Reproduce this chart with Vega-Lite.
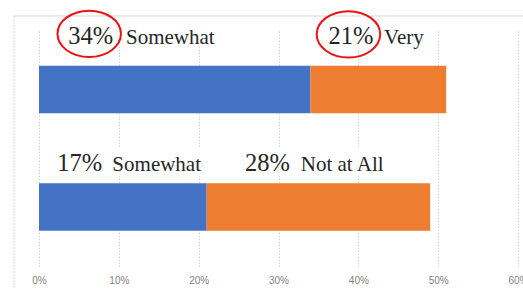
{
  "$schema": "https://vega.github.io/schema/vega-lite/v6.json",
  "width": 479,
  "height": 236.5,
  "autosize": {"type": "none"},
  "padding": {"left": 39, "top": 30, "right": 5, "bottom": 22.5},
  "background": "white",
  "config": {"view": {"stroke": null}},
  "datasets": {
    "bars": [
      {"cat": "top", "series": "Somewhat", "ord": 1, "value": 34},
      {"cat": "top", "series": "Very", "ord": 2, "value": 17},
      {"cat": "bottom", "series": "Somewhat", "ord": 1, "value": 21},
      {"cat": "bottom", "series": "Not at All", "ord": 2, "value": 28}
    ],
    "boxes": [
      {"x": 2.0, "x2": 22.9, "v": 105.0, "v2": 92.8},
      {"x": 35.0, "x2": 49.2, "v": 105.0, "v2": 91.5},
      {"x": 1.6, "x2": 20.9, "v": 50.5, "v2": 38.3},
      {"x": 25.2, "x2": 44.2, "v": 50.5, "v2": 38.3}
    ],
    "nums": [
      {"label": "34%", "x": 3.67, "v": 94.08},
      {"label": "21%", "x": 36.25, "v": 94.08},
      {"label": "17%", "x": 2.29, "v": 40.59},
      {"label": "28%", "x": 25.81, "v": 40.59}
    ],
    "words": [
      {"label": "Somewhat", "x": 10.9, "v": 94.08},
      {"label": "Very", "x": 43.23, "v": 94.08},
      {"label": "Somewhat", "x": 9.19, "v": 40.59},
      {"label": "Not at All", "x": 32.79, "v": 40.59}
    ],
    "rings": [
      {"x": 6.29, "v": 98.39},
      {"x": 38.76, "v": 98.18}
    ]
  },
  "resolve": {"scale": {"y": "independent"}},
  "layer": [
    {
      "data": {"name": "bars"},
      "mark": {"type": "bar"},
      "encoding": {
        "y": {"field": "cat", "type": "nominal", "sort": ["top", "bottom"], "axis": null,
              "scale": {"paddingInner": 0.596, "paddingOuter": 0.304}},
        "x": {"field": "value", "type": "quantitative", "stack": "zero",
              "scale": {"domain": [0, 60], "nice": false},
              "axis": {"values": [0, 10, 20, 30, 40, 50, 60], "labelExpr": "datum.value + '%'",
                       "title": null, "domain": false, "ticks": false, "grid": true,
                       "gridColor": "#d2d2d2", "gridDash": [1.5, 1.5], "gridWidth": 1,
                       "labelFont": "Liberation Sans", "labelFontSize": 10, "labelColor": "#7f7f7f",
                       "labelPadding": 9, "labelFlush": false, "labelOverlap": false}},
        "color": {"field": "ord", "type": "nominal",
                  "scale": {"domain": [1, 2], "range": ["#4472C4", "#ED7D31"]}, "legend": null},
        "order": {"field": "ord", "type": "quantitative"}
      }
    },
    {
      "data": {"name": "boxes"},
      "mark": {"type": "rect", "fill": "white"},
      "encoding": {
        "x": {"field": "x", "type": "quantitative"},
        "x2": {"field": "x2"},
        "y": {"field": "v", "type": "quantitative", "scale": {"domain": [0, 100], "nice": false, "zero": false}, "axis": null},
        "y2": {"field": "v2"}
      }
    },
    {
      "data": {"values": [{}]},
      "mark": {"type": "rule", "color": "#d9d9d9", "strokeWidth": 1, "strokeDash": [2, 1]},
      "encoding": {
        "x": {"datum": -3.13, "type": "quantitative"},
        "y": {"datum": 105.92, "type": "quantitative", "scale": {"domain": [0, 100], "nice": false, "zero": false}, "axis": null},
        "y2": {"datum": -10}
      }
    },
    {
      "data": {"values": [{}]},
      "mark": {"type": "rule", "color": "#d9d9d9", "strokeWidth": 1},
      "encoding": {
        "x": {"datum": -3.13, "type": "quantitative"},
        "x2": {"datum": 70},
        "y": {"datum": 105.92, "type": "quantitative", "scale": {"domain": [0, 100], "nice": false, "zero": false}, "axis": null}
      }
    },
    {
      "data": {"name": "nums"},
      "mark": {"type": "text", "align": "left", "baseline": "alphabetic", "font": "Liberation Serif", "fontSize": 24.5, "color": "#262626"},
      "encoding": {
        "x": {"field": "x", "type": "quantitative"},
        "y": {"field": "v", "type": "quantitative", "scale": {"domain": [0, 100], "nice": false, "zero": false}, "axis": null},
        "text": {"field": "label"}
      }
    },
    {
      "data": {"name": "words"},
      "mark": {"type": "text", "align": "left", "baseline": "alphabetic", "font": "Liberation Serif", "fontSize": 21, "color": "#262626"},
      "encoding": {
        "x": {"field": "x", "type": "quantitative"},
        "y": {"field": "v", "type": "quantitative", "scale": {"domain": [0, 100], "nice": false, "zero": false}, "axis": null},
        "text": {"field": "label"}
      }
    },
    {
      "data": {"name": "rings"},
      "mark": {"type": "point", "shape": "M-1,0A1,0.73 0 1,1 1,0A1,0.73 0 1,1 -1,0Z", "size": 4032, "filled": false, "stroke": "#ee1111", "strokeWidth": 2, "opacity": 1},
      "encoding": {
        "x": {"field": "x", "type": "quantitative"},
        "y": {"field": "v", "type": "quantitative", "scale": {"domain": [0, 100], "nice": false, "zero": false}, "axis": null}
      }
    }
  ]
}
